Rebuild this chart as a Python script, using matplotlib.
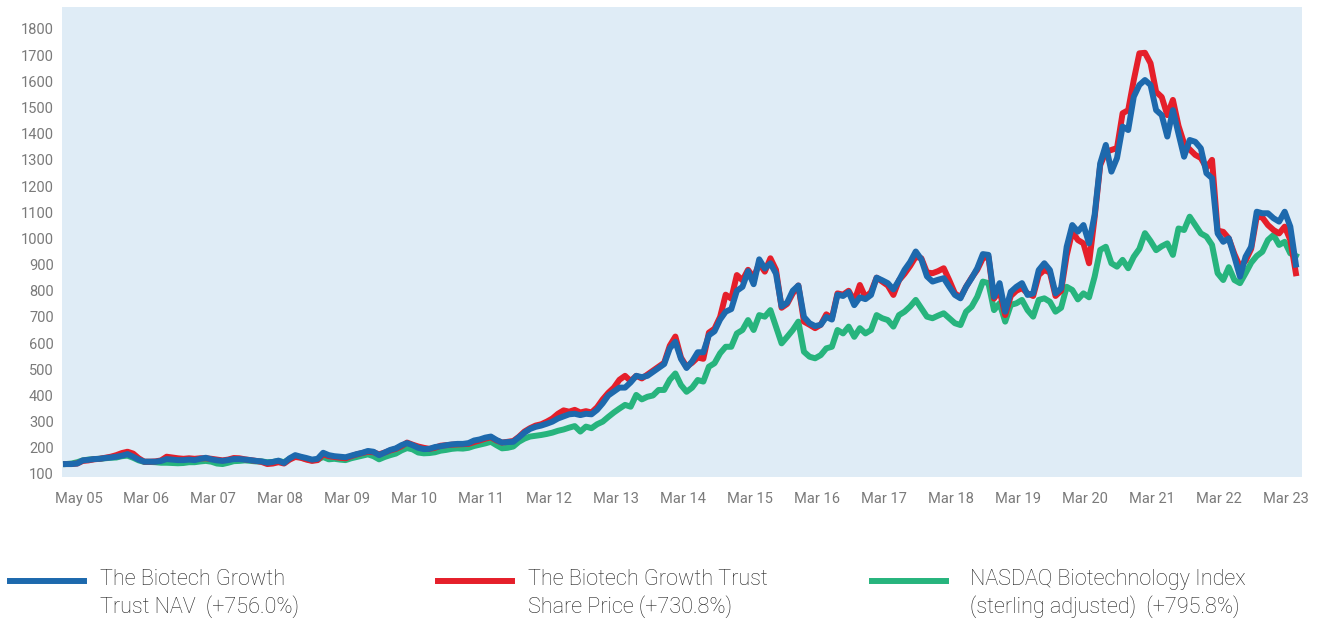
import numpy as np
import matplotlib
matplotlib.use("Agg")
import matplotlib.pyplot as plt
from matplotlib.lines import Line2D

# monthly values, May 2005 onwards (rebased to 100 scale as in the factsheet)
nav = [
    138, 138, 140, 152, 154, 157, 158, 161, 163, 166,
    170, 176, 166, 155, 147, 147, 147, 150, 157, 155,
    153, 153, 155, 153, 158, 162, 156, 152, 150, 153,
    157, 157, 155, 153, 150, 148, 143, 146, 151, 142,
    160, 172, 166, 161, 155, 158, 181, 172, 168, 166,
    164, 170, 176, 181, 188, 185, 172, 182, 192, 198,
    210, 218, 210, 200, 195, 196, 203, 206, 210, 213,
    215, 215, 218, 228, 232, 239, 243, 230, 220, 222,
    223, 240, 258, 272, 280, 285, 292, 300, 312, 320,
    328, 330, 325, 330, 328, 345, 370, 400, 415, 430,
    430, 450, 475, 470, 475, 490, 505, 520, 580, 605,
    540, 505, 530, 565, 565, 630, 645, 690, 720, 730,
    800, 815, 875, 825, 920, 885, 905, 865, 740, 755,
    800, 820, 700, 676, 665, 670, 700, 690, 785, 780,
    795, 745, 775, 768, 784, 850, 840, 829, 805, 840,
    880, 910, 950, 920, 855, 835, 842, 848, 815, 784,
    771, 815, 848, 886, 940, 937, 777, 829, 720, 796,
    815, 829, 784, 790, 879, 905, 879, 790, 809, 968,
    1051, 1026, 1051, 981, 1090, 1287, 1357, 1255, 1307, 1427,
    1414, 1541, 1586, 1605, 1586, 1490, 1471, 1389, 1490, 1400,
    1312, 1376, 1369, 1344, 1249, 1230, 1019, 987, 1000, 930,
    854, 930, 968, 1102, 1096, 1096, 1077, 1064, 1102, 1045, 900,
]

share_price = [
    138, 138, 140, 150, 152, 156, 158, 162, 166, 172,
    180, 185, 178, 160, 147, 147, 148, 152, 166, 163,
    160, 158, 160, 158, 160, 160, 158, 155, 152, 155,
    161, 160, 156, 153, 150, 146, 138, 140, 145, 140,
    155, 165, 162, 155, 150, 153, 175, 168, 165, 162,
    160, 168, 175, 180, 185, 183, 175, 182, 190, 196,
    206, 220, 212, 205, 200, 196, 200, 208, 210, 212,
    213, 214, 215, 222, 228, 235, 240, 228, 220, 223,
    226, 242, 262, 275, 285, 290, 300, 312, 330, 343,
    338, 345, 335, 340, 335, 355, 385, 410, 430, 460,
    475, 455, 475, 465, 480, 495, 510, 525, 590, 625,
    545, 510, 525, 545, 540, 640, 655, 700, 785, 770,
    860, 840, 880, 850, 905, 873, 924, 880, 735, 750,
    790, 820, 682, 670, 657, 670, 710, 695, 790, 785,
    800, 760, 822, 775, 795, 850, 835, 820, 784, 840,
    865, 895, 930, 924, 870, 867, 875, 886, 840, 790,
    775, 815, 850, 880, 924, 930, 770, 800, 707, 780,
    800, 810, 790, 780, 860, 879, 870, 780, 800, 935,
    1026, 994, 981, 905, 1080, 1280, 1330, 1338, 1345, 1478,
    1490, 1605, 1707, 1709, 1669, 1560, 1540, 1471, 1529, 1430,
    1363, 1340, 1319, 1307, 1270, 1300, 1030, 1025, 1000, 940,
    892, 915, 960, 1083, 1080, 1051, 1032, 1019, 1045, 994, 867,
]

nasdaq = [
    138, 140, 145, 152, 155, 157, 158, 160, 162, 163,
    168, 170, 162, 152, 146, 146, 145, 143, 143, 142,
    141, 142, 145, 145, 148, 150, 147, 140, 138, 143,
    149, 150, 152, 150, 148, 148, 145, 146, 150, 145,
    158, 168, 163, 157, 152, 155, 165, 156, 158, 155,
    153, 160, 165, 170, 175, 168, 156, 165, 172, 178,
    190, 199, 194, 182, 179, 180, 183, 189, 192, 196,
    198, 197, 200, 207, 212, 217, 223, 210, 198, 200,
    205, 223, 235, 243, 246, 249, 253, 258, 265, 270,
    277, 283, 262, 281, 275, 290, 300, 318, 335, 350,
    364, 357, 402, 385, 395, 400, 421, 421, 460, 484,
    440, 414, 430, 459, 453, 510, 523, 561, 586, 586,
    637, 650, 688, 650, 707, 701, 726, 663, 599, 624,
    650, 682, 567, 548, 542, 554, 580, 586, 650, 637,
    663, 624, 657, 637, 650, 707, 695, 688, 663, 707,
    720, 740, 765, 733, 701, 695, 705, 714, 695, 676,
    669, 720, 739, 777, 835, 829, 726, 752, 682, 746,
    752, 765, 726, 701, 765, 771, 758, 720, 735, 815,
    803, 767, 790, 775, 854, 956, 968, 905, 892, 918,
    886, 930, 960, 1020, 990, 955, 970, 981, 937, 1038,
    1032, 1083, 1051, 1019, 1007, 975, 867, 841, 890, 841,
    829, 867, 907, 933, 949, 994, 1013, 975, 987, 943, 933,
]

tick_labels = ["May 05", "Mar 06", "Mar 07", "Mar 08", "Mar 09", "Mar 10",
               "Mar 11", "Mar 12", "Mar 13", "Mar 14", "Mar 15", "Mar 16",
               "Mar 17", "Mar 18", "Mar 19", "Mar 20", "Mar 21", "Mar 22",
               "Mar 23"]

legend_labels = ["The Biotech Growth\nTrust NAV  (+756.0%)",
                 "The Biotech Growth Trust\nShare Price (+730.8%)",
                 "NASDAQ Biotechnology Index\n(sterling adjusted)  (+795.8%)"]

BLUE = "#1d69ad"
RED = "#e51f2a"
GREEN = "#27b47d"
BG = "#dfecf6"
GREY = "#7a7a7a"

plt.rcParams["font.family"] = ["Roboto", "DejaVu Sans"]

x = np.arange(len(nav))

fig = plt.figure(figsize=(13.22, 6.19), dpi=100)
ax = fig.add_axes([0.0469, 0.2294, 0.9380, 0.7593])
ax.set_facecolor(BG)

lw = 4.3
ax.plot(x, nasdaq, color=GREEN, lw=lw, solid_joinstyle="round", zorder=2)
ax.plot(x, share_price, color=RED, lw=lw, solid_joinstyle="round", zorder=3)
ax.plot(x, nav, color=BLUE, lw=lw, solid_joinstyle="round", zorder=4)

ax.set_xlim(-0.72, 221.1)
ax.set_ylim(88.5, 1884)
ax.set_yticks(np.arange(100, 1801, 100))
ax.set_xticks(2.3 + 12 * np.arange(len(tick_labels)))
ax.set_xticklabels(tick_labels)
ax.tick_params(axis="both", length=0, labelsize=10.5, colors=GREY)
ax.tick_params(axis="x", pad=11)
ax.tick_params(axis="y", pad=6)
for s in ax.spines.values():
    s.set_visible(False)

# legend drawn by hand so the key line sits level with the first text line
W, H = 1322, 619
keys = [(10, 100), (438, 528), (872, 970)]   # line start, text start (px)
colors = [BLUE, RED, GREEN]
for (x0, tx), c, lab in zip(keys, colors, legend_labels):
    fig.add_artist(Line2D([x0 / W, (x0 + 74) / W], [1 - 581 / H, 1 - 581 / H],
                          color=c, lw=4.3))
    fig.text(tx / W, 1 - 569 / H, lab, fontsize=15.6, color="#222222",
             fontweight="light", va="top", ha="left", linespacing=1.32)

fig.savefig("out.png", dpi=100)
